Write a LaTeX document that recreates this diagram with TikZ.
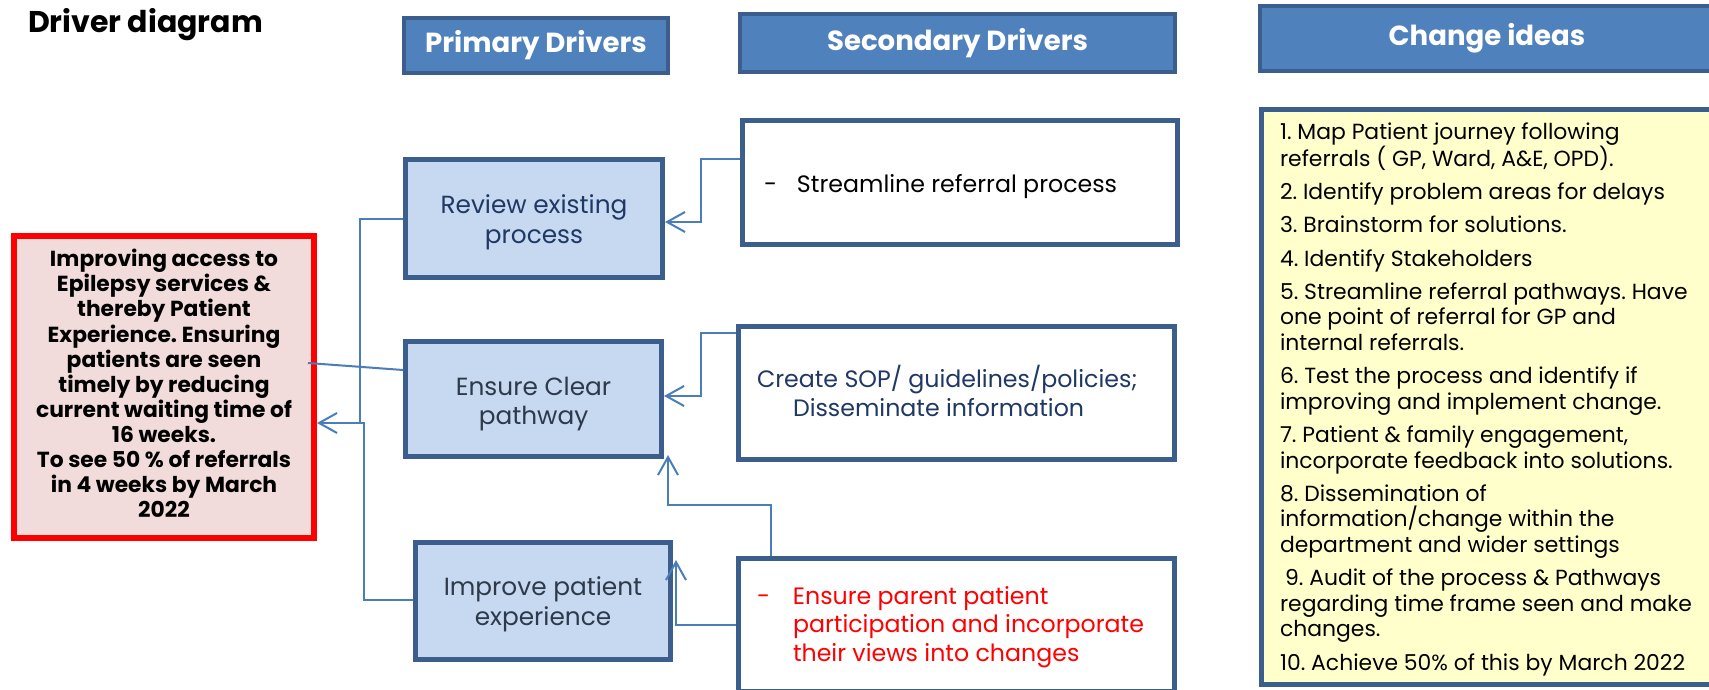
\documentclass[tikz,border=0pt]{standalone}
\usepackage{fontspec}
\setmainfont{Poppins}
\usetikzlibrary{arrows.meta,calc}
\definecolor{hdrfill}{HTML}{4F81BD}
\definecolor{bordblue}{HTML}{3B5E8C}
\definecolor{lightblue}{HTML}{C6D9F0}
\definecolor{pinkfill}{HTML}{F2DCDB}
\definecolor{yellowfill}{HTML}{FFFFCC}
\definecolor{connblue}{HTML}{4A7EBB}
\definecolor{navy}{HTML}{1F3864}
\definecolor{slate}{HTML}{2E3A4B}
\definecolor{pureRed}{HTML}{FF0000}
\frenchspacing
\begin{document}
\frenchspacing
\begin{tikzpicture}[x=1pt,y=-1pt,
  every node/.style={outer sep=0pt, inner sep=0pt},
  hdr/.style={draw=bordblue, line width=4pt, fill=hdrfill, text=white, font=\bfseries\fontsize{27.6}{32}\selectfont},
  pbox/.style={draw=bordblue, line width=5pt, fill=lightblue},
  ptext/.style={align=center, font=\fontsize{24.8}{29.4}\selectfont},
  sbox/.style={draw=bordblue, line width=5pt, fill=white},
  stext/.style={anchor=west, align=left, font=\fontsize{23.7}{28.6}\selectfont},
  conn/.style={draw=connblue, line width=2pt},
  arr/.style={conn, -{Straight Barb[length=18pt,width=20pt]}}]
\useasboundingbox (0,0) rectangle (1709,690);
\clip (0,0) rectangle (1709,690);

\node[anchor=base west, font=\bfseries\fontsize{30}{34}\selectfont] (title) at (28,33) {Driver diagram};

\node[hdr, minimum width=264pt, minimum height=55pt] (hp) at (536,45.5) {Primary Drivers};
\node[hdr, minimum width=435pt, minimum height=58pt] (hs) at (957.5,43) {Secondary Drivers};
\node[hdr, minimum width=454pt, minimum height=65pt] (hc) at (1487,38.5) {Change ideas};

% goal box
\node[draw=pureRed, line width=6pt, fill=pinkfill, minimum width=300pt, minimum height=302pt] (goal) at (164,387) {};
\node[align=center, font=\bfseries\fontsize{21.8}{25.1}\selectfont] (goaltxt) at ($(goal.center)+(0,-3.5)$)
 {Improving access to\\ Epilepsy services \&\\ thereby Patient\\ Experience. Ensuring\\ patients are seen\\ timely by reducing\\ current waiting time of\\ 16 weeks.\\ To see 50 \% of referrals\\ in 4 weeks by March\\ 2022};

% primary drivers
\node[pbox, minimum width=257pt, minimum height=118pt] (review) at (534,218.5) {};
\node[ptext, text=navy] (reviewtxt) at ($(review.center)+(0,3.6)$) {Review existing\\process};
\node[pbox, minimum width=256pt, minimum height=115pt] (ensure) at (533.5,399) {};
\node[ptext, text=slate] (ensuretxt) at ($(ensure.center)+(0,5)$) {Ensure Clear\\pathway};
\node[pbox, minimum width=255pt, minimum height=117pt] (improve) at (543,601) {};
\node[ptext, text=slate] (improvetxt) at ($(improve.center)+(0,3.2)$) {Improve patient\\experience};

% secondary drivers
\node[sbox, minimum width=435pt, minimum height=124pt] (stream) at (960,182.5) {};
\node[stext, text=black] (streamtxt) at (764,186.5) {\makebox[33pt][l]{-}Streamline referral process};
\node[sbox, minimum width=436pt, minimum height=133pt] (sop) at (956.5,393) {};
\node[stext, text=navy] (soptxt) at (757,390.7) {Create SOP/ guidelines/policies;\\ \hspace*{36pt}Disseminate information};
\node[sbox, minimum width=436pt, minimum height=133pt] (parent) at (956.5,625) {};
\node[stext, text=pureRed] (parenttxt) at (757,627) {\makebox[36pt][l]{-}Ensure parent patient\\ \hspace*{36pt}participation and incorporate\\ \hspace*{36pt}their views into changes};

% change ideas
\node[draw=bordblue, line width=5pt, fill=yellowfill, minimum width=452pt, minimum height=575pt] (ideas) at (1487.5,397) {};
\node[anchor=west, align=left, font=\fontsize{21.9}{25.6}\selectfont] (ideastxt) at (1280,399)
 {1. Map Patient journey following\\ referrals ( GP, Ward, A\&E, OPD).\\[7.6pt]
  2. Identify problem areas for delays\\[7.6pt]
  3. Brainstorm for solutions.\\[7.6pt]
  4. Identify Stakeholders\\[7.6pt]
  5. Streamline referral pathways. Have\\ one point of referral for GP and\\ internal referrals.\\[7.6pt]
  6. Test the process and identify if\\ improving and implement change.\\[7.6pt]
  7. Patient \& family engagement,\\ incorporate feedback into solutions.\\[7.6pt]
  8. Dissemination of\\ information/change within the\\ department and wider settings\\[7.6pt]
  \hspace*{5pt}9. Audit of the process \& Pathways\\ regarding time frame seen and make\\ changes.\\[7.6pt]
  10. Achieve 50\% of this by March 2022};

% connectors
\draw[arr] ($(stream.west)+(-2.5,-23.5)$) -| ($(review.east)+(38.5,3.5)$) -- ($(review.east)+(2.5,3.5)$);
\draw[arr] ($(sop.west)+(-2.5,-60)$) -| ($(ensure.east)+(39.5,-3)$) -- ($(ensure.east)+(2.5,-3)$);
\draw[arr] ($(parent.north)+(-185.5,-2.5)$) -- ++(0,-51) -| ($(ensure.south east)+(6.5,-1.5)$);
\draw[arr] ($(parent.west)+(-2.5,0)$) -| ($(improve.east)+(5.5,-41)$);
\draw[arr] ($(review.west)+(-2.5,0)$) -| ($(goal.east)+(46,36)$) -- ($(goal.east)+(3,36)$);
\draw[conn] ($(improve.west)+(-2.5,-1)$) -| ($(goal.east)+(50,36)$) -- ($(goal.east)+(46,36)$);
\draw[conn] ($(ensure.west)+(-2.5,-29)$) -- ($(goal.east)+(-6,-24)$);
\end{tikzpicture}
\end{document}
